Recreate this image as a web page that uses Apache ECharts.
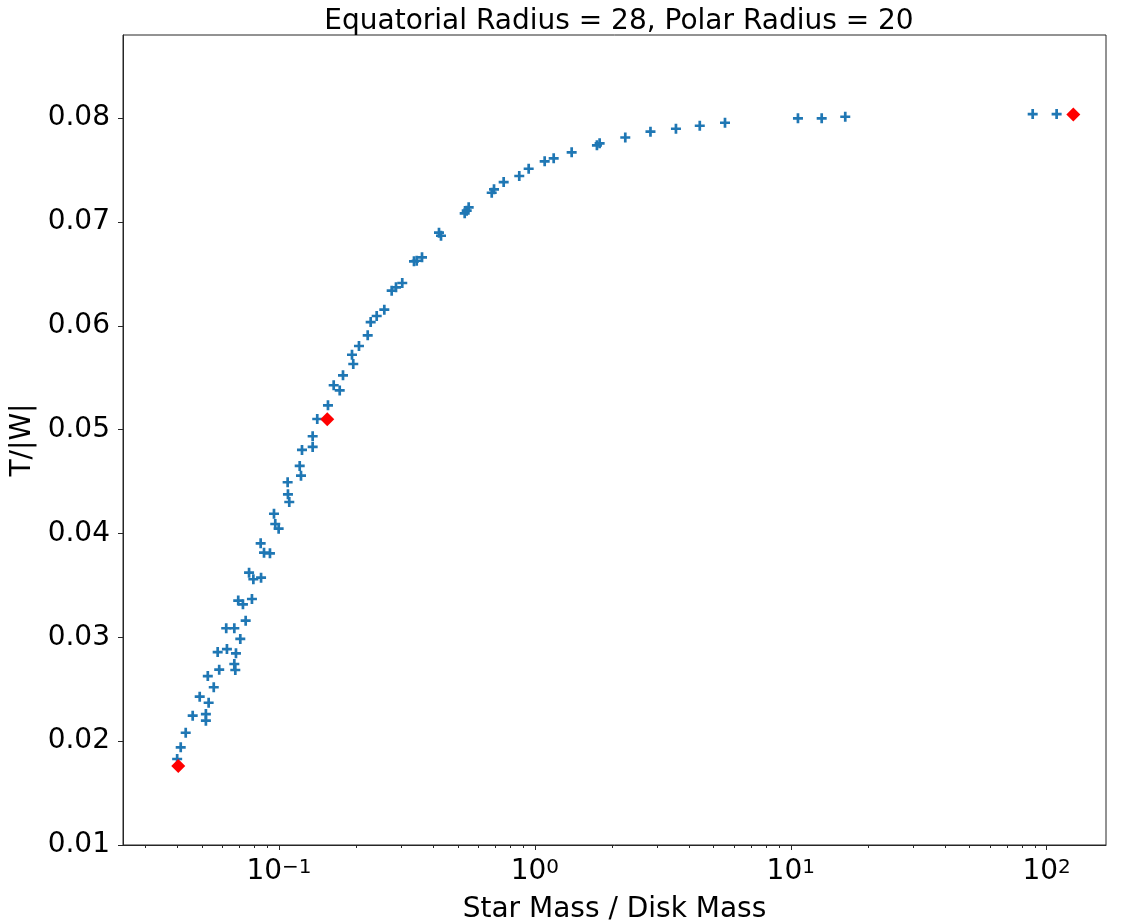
<!DOCTYPE html>
<html>
<head>
<meta charset="utf-8">
<script src="https://cdn.jsdelivr.net/npm/echarts@6/dist/echarts.min.js"></script>
<style>
html,body{margin:0;padding:0;background:#fff;}
#chart{width:1123px;height:922px;}
</style>
</head>
<body>
<div id="chart"></div>
<script>
// ---- data ----
const titleText = 'Equatorial Radius = 28, Polar Radius = 20';
const xAxisName = 'Star Mass / Disk Mass';
const yAxisName = 'T/|W|';

const massRatio = [
  0.0400, 0.0413, 0.0432, 0.0460, 0.0518, 0.0518, 0.0490, 0.0531, 0.0556, 0.0527,
  0.0584, 0.0675, 0.0669, 0.0576, 0.0626, 0.0679, 0.0706, 0.0622, 0.0669, 0.0741,
  0.0693, 0.0723, 0.0784, 0.0764, 0.0794, 0.0851, 0.0848, 0.0874, 0.0922, 0.0956,
  0.0967, 0.0997, 0.1081, 0.1084, 0.1097, 0.1205, 0.1219, 0.1230, 0.1354, 0.1354,
  0.1411, 0.1554, 0.1636, 0.1727, 0.1779, 0.1951, 0.1929, 0.2054, 0.2222, 0.2282,
  0.2409, 0.2580, 0.2757, 0.2866, 0.3032, 0.3370, 0.3453, 0.3622, 0.4220, 0.4297,
  0.5318, 0.5415, 0.5513, 0.6782, 0.6924, 0.7552, 0.8690, 0.9458, 1.0922, 1.1845,
  1.3925, 1.748, 1.791, 2.256, 2.830, 3.559, 4.410, 5.534, 10.67, 13.21,
  16.33, 88.2, 109.4
];
const twRatio = [
  0.01828, 0.01941, 0.02081, 0.02245, 0.02261, 0.02197, 0.02428, 0.02370, 0.02519, 0.02627,
  0.02688, 0.02685, 0.02743, 0.02858, 0.02887, 0.02846, 0.02984, 0.03087, 0.03087, 0.03160,
  0.03354, 0.03318, 0.03369, 0.03622, 0.03559, 0.03574, 0.03905, 0.03815, 0.03809, 0.04190,
  0.04091, 0.04046, 0.04493, 0.04377, 0.04303, 0.04650, 0.04556, 0.04804, 0.04936, 0.04833,
  0.05102, 0.05234, 0.05427, 0.05377, 0.05523, 0.05632, 0.05721, 0.05805, 0.05908, 0.06036,
  0.06094, 0.06155, 0.06338, 0.06370, 0.06412, 0.06621, 0.06626, 0.06659, 0.06896, 0.06867,
  0.07083, 0.07108, 0.07141, 0.07281, 0.07314, 0.07384, 0.07442, 0.07512, 0.07584, 0.07612,
  0.07670, 0.07738, 0.07757, 0.07813, 0.07869, 0.07897, 0.07926, 0.07955, 0.07998, 0.07998,
  0.08013, 0.08039, 0.08039
];

const highlightMass = [0.0404, 0.1544, 127.1];
const highlightTW = [0.01761, 0.05099, 0.08034];

const xMajorTicks = [0.1, 1, 10, 100];
const xMinorTicks = [0.03, 0.04, 0.05, 0.06, 0.07, 0.08, 0.09,
                     0.2, 0.3, 0.4, 0.5, 0.6, 0.7, 0.8, 0.9,
                     2, 3, 4, 5, 6, 7, 8, 9,
                     20, 30, 40, 50, 60, 70, 80, 90];
const yTickValues = [0.01, 0.02, 0.03, 0.04, 0.05, 0.06, 0.07, 0.08];
const xLimits = [0.02457, 170.6];
const yLimits = [0.01, 0.088];

// ---- chart ----
const FONT = '"DejaVu Sans", "Liberation Sans", sans-serif';
const AXIS_COLOR = '#262626';
const blueData = massRatio.map((m, i) => [m, twRatio[i]]);
const redData = highlightMass.map((m, i) => [m, highlightTW[i]]);
const plusPath = 'path://M-1,-0.27L-0.27,-0.27L-0.27,-1L0.27,-1L0.27,-0.27L1,-0.27L1,0.27L0.27,0.27L0.27,1L-0.27,1L-0.27,0.27L-1,0.27Z';

function powLabel(v) {
  const e = Math.round(Math.log10(v));
  const es = e < 0 ? '\u2212' + Math.abs(e) : String(e);
  return '{b|10}{s|' + es + '}';
}

const chart = echarts.init(document.getElementById('chart'), null, {renderer: 'canvas'});
chart.setOption({
  animation: false,
  backgroundColor: '#ffffff',
  title: {
    text: titleText,
    left: 614,
    top: 3,
    textAlign: 'center',
    textStyle: {fontFamily: FONT, fontSize: 28, fontWeight: 'normal', color: '#000', lineHeight: 28}
  },
  grid: {
    left: 123, right: 17, top: 35, bottom: 77,
    outerBoundsMode: 'none', containLabel: false,
    show: true, borderColor: AXIS_COLOR, borderWidth: 1, backgroundColor: 'transparent'
  },
  xAxis: [
    {
      type: 'log', logBase: 10, min: xLimits[0], max: xLimits[1], position: 'bottom',
      name: xAxisName, nameLocation: 'middle', nameGap: 51,
      nameTextStyle: {fontFamily: FONT, fontSize: 28, color: '#000', lineHeight: 28},
      axisLine: {show: true, lineStyle: {color: AXIS_COLOR, width: 1}},
      axisTick: {show: true, length: 5, customValues: xMajorTicks, lineStyle: {color: AXIS_COLOR, width: 1}},
      axisLabel: {
        show: true, margin: 13, customValues: xMajorTicks, formatter: powLabel,
        rich: {
          b: {fontFamily: FONT, fontSize: 28, color: '#000', lineHeight: 28},
          s: {fontFamily: FONT, fontSize: 20, color: '#000', lineHeight: 9, verticalAlign: 'top'}
        }
      },
      splitLine: {show: false}, minorTick: {show: false}
    },
    {
      type: 'log', logBase: 10, min: xLimits[0], max: xLimits[1], position: 'bottom',
      axisLine: {show: false},
      axisTick: {show: true, length: 3, customValues: xMinorTicks, lineStyle: {color: AXIS_COLOR, width: 1}},
      axisLabel: {show: false},
      splitLine: {show: false}
    }
  ],
  yAxis: {
    type: 'value', min: yLimits[0], max: yLimits[1],
    name: yAxisName, nameLocation: 'middle', nameGap: 80, nameRotate: 90,
    nameTextStyle: {fontFamily: FONT, fontSize: 28, color: '#000', lineHeight: 28},
    axisLine: {show: true, lineStyle: {color: AXIS_COLOR, width: 1}},
    axisTick: {show: true, length: 5, customValues: yTickValues, lineStyle: {color: AXIS_COLOR, width: 1}},
    axisLabel: {
      show: true, margin: 13, customValues: yTickValues,
      fontFamily: FONT, fontSize: 28, color: '#000',
      formatter: v => v.toFixed(2)
    },
    splitLine: {show: false}
  },
  series: [
    {
      type: 'scatter', xAxisIndex: 0, yAxisIndex: 0,
      data: blueData, symbol: plusPath, symbolSize: 10,
      itemStyle: {color: '#1f77b4', opacity: 1}, z: 2
    },
    {
      type: 'scatter', xAxisIndex: 0, yAxisIndex: 0,
      data: redData, symbol: 'diamond', symbolSize: 14,
      itemStyle: {color: '#ff0000', opacity: 1}, z: 3
    }
  ]
});
</script>
</body>
</html>
